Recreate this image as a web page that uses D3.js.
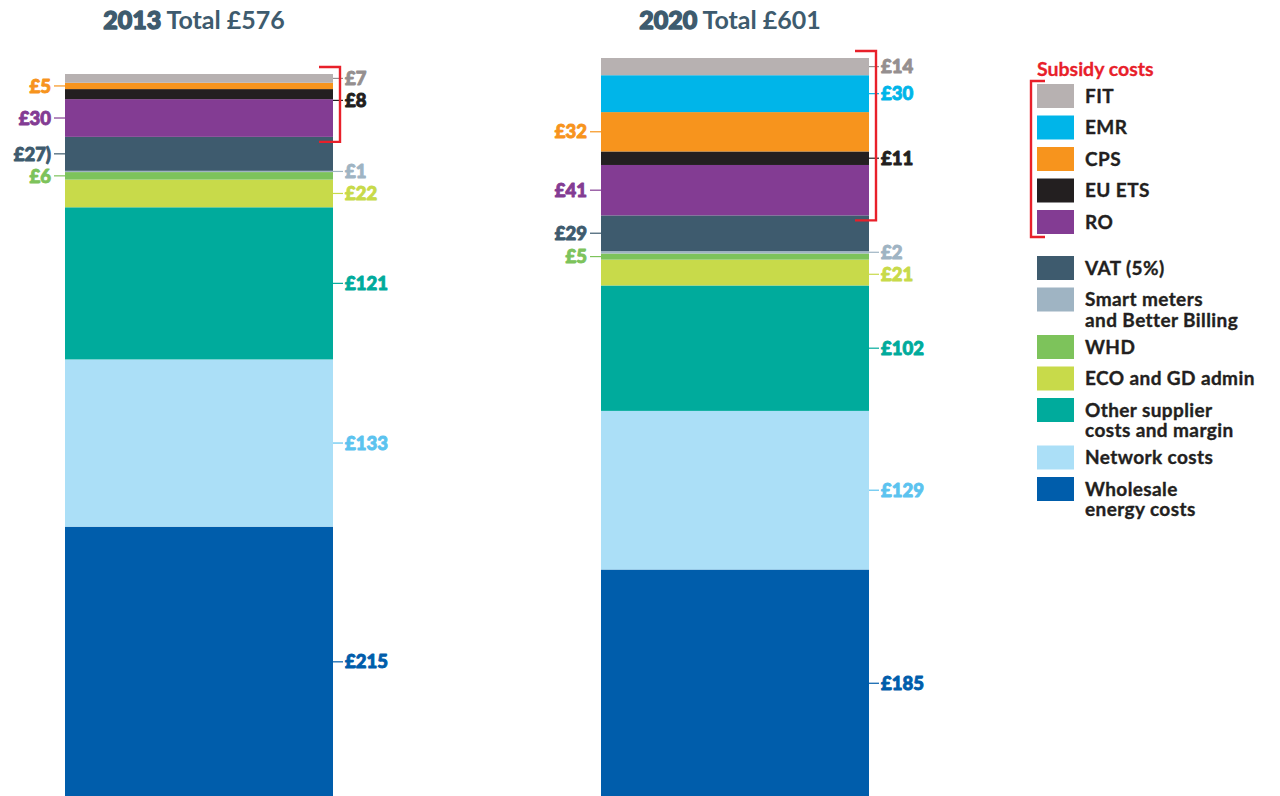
<!DOCTYPE html>
<html>
<head>
<meta charset="utf-8">
<script src="https://cdn.jsdelivr.net/npm/d3@7/dist/d3.min.js"></script>
<style>
  html, body { margin: 0; padding: 0; background: #ffffff; }
  svg { display: block; }
  text { font-family: Lato, "Open Sans", sans-serif; }
  .heavy { paint-order: stroke; stroke-linejoin: round; }
</style>
</head>
<body>
<svg id="chart" width="1280" height="796"></svg>
<script>
// ---------------- DATA ----------------
const categories = ["FIT", "EMR", "CPS", "EU ETS", "RO", "VAT (5%)",
  "Smart meters and Better Billing", "WHD", "ECO and GD admin",
  "Other supplier costs and margin", "Network costs", "Wholesale energy costs"];
const years = ["2013", "2020"];
const totals = ["£576", "£601"];
const values2013 = [7, 0, 5, 8, 30, 27, 1, 6, 22, 121, 133, 215];
const values2020 = [14, 30, 32, 11, 41, 29, 2, 5, 21, 102, 129, 185];
const labels2013 = ["£7", "", "£5", "£8", "£30", "£27)", "£1", "£6", "£22", "£121", "£133", "£215"];
const labels2020 = ["£14", "£30", "£32", "£11", "£41", "£29", "£2", "£5", "£21", "£102", "£129", "£185"];
const subsidyGroup = ["FIT", "EMR", "CPS", "EU ETS", "RO"];
const legendLines = [["FIT"], ["EMR"], ["CPS"], ["EU ETS"], ["RO"], ["VAT (5%)"],
  ["Smart meters", "and Better Billing"], ["WHD"], ["ECO and GD admin"],
  ["Other supplier", "costs and margin"], ["Network costs"], ["Wholesale", "energy costs"]];
const legendTitle = "Subsidy costs";

// ---------------- STYLE ----------------
const fillColors = ["#b7b1b1", "#00b5e9", "#f7941d", "#231f20", "#833c93", "#3e5b6e",
  "#9fb4c3", "#7dc35b", "#c8da4a", "#00ab9c", "#abdff7", "#005dab"];
const labelColors = ["#958f8f", "#00b5e9", "#f7941d", "#231f20", "#833c93", "#3e5b6e",
  "#9fb4c3", "#7dc35b", "#c8da4a", "#00ab9c", "#5cc3ef", "#005dab"];
const leftSide = new Set(["CPS", "RO", "VAT (5%)", "WHD"]);
const red = "#e8202a";
const titleColor = "#3e5b6e";

const svg = d3.select("#chart");

// rows for stacking
const valuesByYear = [values2013, values2020];
const labelsByYear = [labels2013, labels2020];
const rows = years.map((y, i) => {
  const r = { year: y };
  categories.forEach((c, j) => r[c] = valuesByYear[i][j]);
  return r;
});
const stackOrder = categories.slice().reverse(); // bottom -> top
const series = d3.stack().keys(stackOrder)(rows);

const x = d3.scaleBand().domain(years).range([65, 869]).paddingInner(0.5);
const bottomY = 797;
const topY = { "2013": 74, "2020": 58 };
const yScales = {};
years.forEach((yr, i) => {
  const tot = d3.sum(valuesByYear[i]);
  yScales[yr] = d3.scaleLinear().domain([0, tot]).range([bottomY, topY[yr]]);
});

// bars
series.forEach(s => {
  const ci = categories.indexOf(s.key);
  svg.append("g").selectAll("rect")
    .data(s.filter(d => d[1] - d[0] > 0))
    .join("rect")
    .attr("x", d => x(d.data.year))
    .attr("width", x.bandwidth())
    .attr("y", d => yScales[d.data.year](d[1]))
    .attr("height", d => yScales[d.data.year](d[0]) - yScales[d.data.year](d[1]))
    .attr("fill", fillColors[ci]);
});

// titles
years.forEach((yr, i) => {
  const t = svg.append("text")
    .attr("x", x(yr) + x.bandwidth() / 2 - 5)
    .attr("y", 29)
    .attr("text-anchor", "middle")
    .attr("fill", titleColor)
    .attr("font-size", 25);
  t.append("tspan").attr("font-weight", 900).attr("class", "heavy")
    .attr("stroke", titleColor).attr("stroke-width", 1.4).text(yr);
  t.append("tspan").attr("font-weight", 700).text(" Total " + totals[i]);
});

// value labels with simple collision avoidance per side
years.forEach((yr, i) => {
  const ys = yScales[yr];
  const bx0 = x(yr), bx1 = x(yr) + x.bandwidth();
  const items = [];
  series.forEach(s => {
    const d = s.find(e => e.data.year === yr);
    const ci = categories.indexOf(s.key);
    if (d[1] - d[0] <= 0) return;
    items.push({ key: s.key, ci, y: (ys(d[0]) + ys(d[1])) / 2, text: labelsByYear[i][ci],
      left: leftSide.has(s.key) });
  });
  [true, false].forEach(side => {
    const group = items.filter(it => it.left === side).sort((a, b) => a.y - b.y);
    for (let k = 1; k < group.length; k++) {
      if (group[k].y - group[k - 1].y < 22) group[k].y = group[k - 1].y + 22;
    }
  });
  const g = svg.append("g");
  items.forEach(it => {
    const col = labelColors[it.ci];
    const lx1 = it.left ? bx0 - 11 : bx1;
    const lx2 = it.left ? bx0 : bx1 + 10;
    g.append("line").attr("x1", lx1).attr("x2", lx2).attr("y1", it.y).attr("y2", it.y)
      .attr("stroke", col).attr("stroke-width", 1.2);
    g.append("text")
      .attr("x", it.left ? bx0 - 14 : bx1 + 12)
      .attr("y", it.y).attr("dy", "0.36em")
      .attr("text-anchor", it.left ? "end" : "start")
      .attr("font-size", 18.5).attr("font-weight", 900)
      .attr("class", "heavy").attr("stroke", col).attr("stroke-width", 0.9)
      .attr("fill", col).text(it.text);
  });

  // subsidy bracket
  const subsidyVals = subsidyGroup.map(c => valuesByYear[i][categories.indexOf(c)]);
  const tot = d3.sum(valuesByYear[i]);
  const yTop = ys(tot) - 7;
  const yBot = ys(tot - d3.sum(subsidyVals)) + 5;
  const xv = bx1 + 7;
  svg.append("path")
    .attr("d", `M${bx1 - 14},${yTop} H${xv} V${yBot} H${bx1 - 14}`)
    .attr("fill", "none").attr("stroke", red).attr("stroke-width", 2.4);
});

// legend
const lg = svg.append("g");
lg.append("text").attr("x", 1037).attr("y", 76).attr("font-size", 19.5).attr("font-weight", 700)
  .attr("fill", red).attr("class", "heavy").attr("stroke", red).attr("stroke-width", 0.3)
  .text(legendTitle);
let ly = 84;
const swW = 37, swH = 24;
const positions = [];
categories.forEach((c, i) => {
  if (i === subsidyGroup.length) ly += 14.5;
  positions.push(ly);
  lg.append("rect").attr("x", 1037).attr("y", ly).attr("width", swW).attr("height", swH)
    .attr("fill", fillColors[i]);
  const t = lg.append("text").attr("y", ly + swH / 2)
    .attr("font-size", 19).attr("font-weight", 700).attr("fill", "#231f20")
    .attr("letter-spacing", 0.4)
    .attr("class", "heavy").attr("stroke", "#231f20").attr("stroke-width", 0.35);
  legendLines[i].forEach((ln, k) => {
    t.append("tspan").attr("x", 1085).attr("dy", k === 0 ? "0.36em" : "1.08em").text(ln);
  });
  ly += 31.5 + 16 * (legendLines[i].length - 1);
});
// legend bracket
const lbTop = positions[0] - 3;
const lbBot = positions[subsidyGroup.length - 1] + swH + 3;
lg.append("path")
  .attr("d", `M1045,${lbTop} H1031 V${lbBot} H1045`)
  .attr("fill", "none").attr("stroke", red).attr("stroke-width", 2.4);
</script>
</body>
</html>
